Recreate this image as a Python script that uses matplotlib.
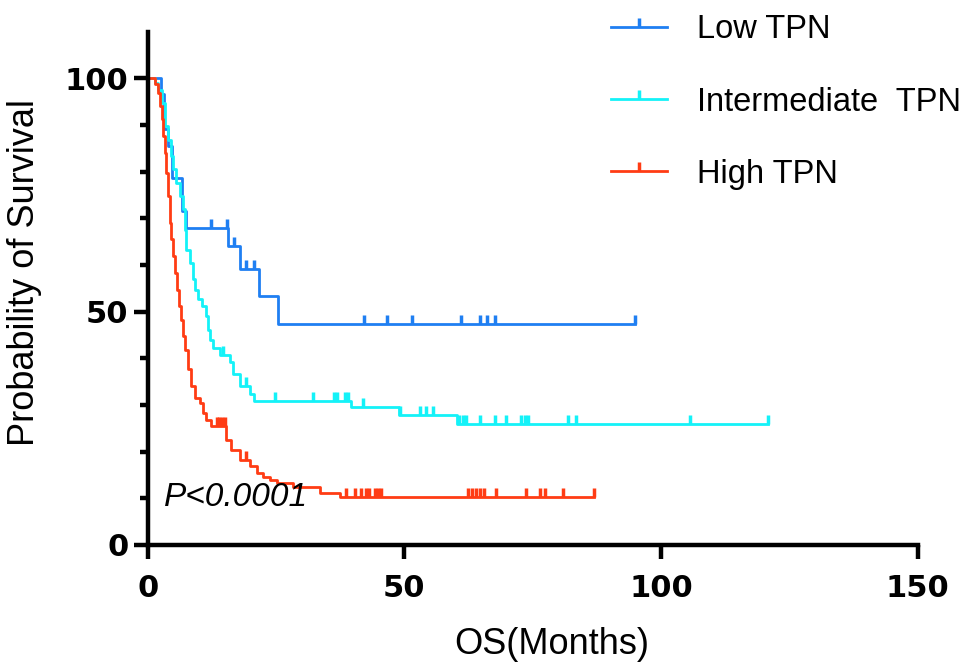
import numpy as np
import matplotlib
matplotlib.use("Agg")
import matplotlib.pyplot as plt
from matplotlib.path import Path
from matplotlib.lines import Line2D

# Kaplan-Meier steps (months, % surviving)
low_t = [0, 2.5, 3.1, 4.0, 4.7, 6.7, 7.4, 15.6, 17.9, 21.6, 25.4]
low_s = [100, 96.6, 89.2, 85.6, 78.7, 71.5, 67.9, 64.0, 59.2, 53.4, 47.4]
low_end = 95.0
low_cens = [12.4, 15.4, 16.9, 19.1, 20.8, 42.1, 46.6, 51.5, 61.0, 64.7, 66.1, 67.6, 95.0]

mid_t = [0, 1.4, 2.0, 2.7, 3.3, 4.0, 4.6, 4.9, 5.6, 6.2, 6.9, 7.2, 7.5, 8.2, 8.8, 9.2,
         9.8, 10.5, 11.4, 11.7, 12.1, 12.7, 14.0, 16.0, 16.6, 17.9, 19.9, 20.8, 39.7,
         49.0, 60.2]
mid_s = [100, 99.0, 97.6, 94.8, 89.8, 86.9, 83.3, 80.5, 77.6, 74.7, 71.9, 67.6, 63.3,
         60.4, 56.9, 54.7, 52.6, 51.1, 49.0, 46.1, 44.0, 42.2, 40.8, 39.1, 36.6, 34.0,
         32.3, 30.8, 29.5, 27.8, 26.0]
mid_end = 120.8
mid_cens = [14.7, 19.2, 24.7, 32.2, 36.2, 36.8, 38.4, 39.0, 41.9, 49.2, 53.0, 54.3, 55.6,
            60.6, 61.4, 62.1, 64.7, 67.6, 69.9, 72.8, 73.5, 74.1, 81.9, 83.5, 105.6, 120.8]

high_t = [0, 1.5, 2.0, 2.3, 2.7, 3.0, 3.3, 3.6, 4.0, 4.3, 4.6, 4.9, 5.3, 5.7, 6.1, 6.4,
          6.9, 7.2, 7.9, 8.5, 9.2, 10.1, 10.8, 11.4, 12.4, 15.3, 16.3, 17.9, 19.9, 21.2,
          22.5, 23.8, 25.1, 28.3, 33.5, 37.4]
high_s = [100, 98.8, 96.9, 94.1, 91.2, 87.6, 84.1, 79.8, 74.7, 69.0, 65.5, 61.9, 58.3,
          54.7, 51.1, 48.3, 44.7, 41.8, 37.6, 34.0, 31.5, 30.4, 28.3, 26.8, 25.4, 22.5,
          20.4, 18.2, 16.8, 15.4, 14.6, 13.9, 13.2, 12.5, 11.2, 10.2]
high_end = 87.0
high_cens = [13.4, 13.9, 14.4, 15.0, 19.2, 38.7, 40.3, 41.6, 42.6, 43.2, 44.2, 44.8, 45.5,
             62.4, 63.2, 64.0, 64.7, 65.6, 67.9, 73.8, 76.4, 77.5, 80.9, 87.0]

labels = ['Low TPN', 'Intermediate  TPN', 'High TPN']
colors = ['#1f7ff2', '#14f2f8', '#ff3c14']

# censor mark: short vertical tick sitting on the curve
tick = Path([(0, 0), (0, 1)], [Path.MOVETO, Path.LINETO])

fig = plt.figure(figsize=(9.72, 6.62), dpi=100)
ax = fig.add_axes([0.152, 0.177, 0.792, 0.775])

groups = [(low_t, low_s, low_end, low_cens),
          (mid_t, mid_s, mid_end, mid_cens),
          (high_t, high_s, high_end, high_cens)]
for (t, s, end, cens), c in zip(groups, colors):
    tt = np.array(t + [end])
    ss = np.array(s + [s[-1]])
    ax.step(tt, ss, where='post', color=c, lw=2, clip_on=False)
    cens = np.array(cens)
    idx = np.searchsorted(np.array(t), cens, side='right') - 1
    ax.plot(cens, np.array(s)[idx], ls='none', marker=tick, ms=13, mew=2.5,
            color=c, clip_on=False)

ax.set_xlim(0, 150)
ax.set_ylim(0, 110)
ax.set_xticks([0, 50, 100, 150])
ax.set_yticks([0, 50, 100])
ax.set_yticks([10, 20, 30, 40, 60, 70, 80, 90], minor=True)

for sp in ['top', 'right']:
    ax.spines[sp].set_visible(False)
for sp in ['left', 'bottom']:
    ax.spines[sp].set_linewidth(3.2)
ax.tick_params(which='major', length=10, width=3.2, pad=4)
ax.tick_params(which='minor', length=6, width=3.2)
ax.tick_params(axis='x', pad=11)
for lb in ax.get_xticklabels() + ax.get_yticklabels():
    lb.set_fontfamily('DejaVu Sans')
    lb.set_fontweight('bold')
    lb.set_fontsize(22)

ax.set_xlabel('OS(Months)', fontsize=26, family='Liberation Sans')
ax.set_ylabel('Probability of Survival', fontsize=26, family='Liberation Sans')
ax.xaxis.set_label_coords(0.525, -0.16)
ax.yaxis.set_label_coords(-0.138, 0.53)

ax.text(3.2, 10.1, 'P<0.0001', fontsize=24, style='italic', family='Liberation Sans',
        ha='left', va='center')

handles = [Line2D([0, 1], [0, 0], color=c, lw=2, marker=tick, ms=13, mew=2.5)
           for c in colors]
leg = fig.legend(handles, labels, loc='upper left', bbox_to_anchor=(0.622, 0.988),
                 frameon=False, prop={'family': 'Liberation Sans', 'size': 23.5},
                 handlelength=1.72, handletextpad=0.92, labelspacing=1.26,
                 borderpad=0.2, borderaxespad=0, numpoints=1)

fig.savefig('out.png', dpi=100)
